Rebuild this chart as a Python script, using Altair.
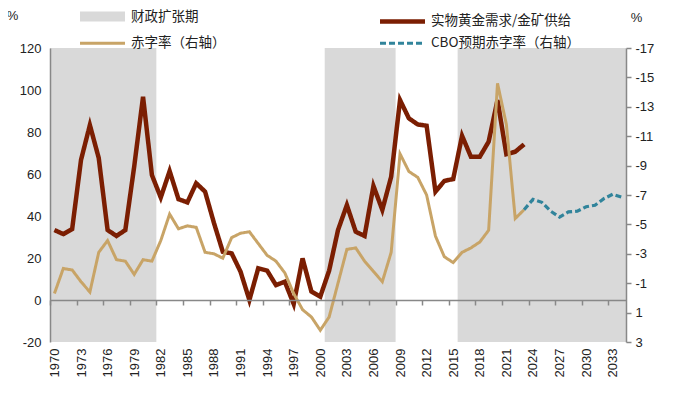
import altair as alt
import pandas as pd

# ---------------- data ----------------
years = list(range(1970, 2024))
gold_ratio = [33.3, 31.4, 33.8, 66.7, 83.3, 67.6, 33.3, 30.5, 33.3, 63.5,
              96.8, 59.5, 48.8, 61.4, 48.0, 46.5, 55.6, 51.6, 36.7, 23.0,
              22.2, 13.5, 0.0, 15.1, 14.0, 7.1, 8.7, -1.9, 19.8, 4.0,
              1.6, 14.0, 33.3, 45.2, 32.5, 30.5, 54.3, 42.9, 58.7, 95.2,
              86.5, 83.6, 83.0, 51.6, 56.7, 57.6, 78.2, 68.2, 68.2, 75.4,
              95.2, 69.4, 70.6, 74.1]
deficit = [-0.3, -2.0, -1.9, -1.1, -0.4, -3.1, -3.9, -2.6, -2.5, -1.6,
           -2.6, -2.5, -3.9, -5.7, -4.7, -4.9, -4.8, -3.1, -3.0, -2.7,
           -4.1, -4.4, -4.5, -3.7, -2.9, -2.5, -1.7, -0.3, 0.8, 1.3,
           2.2, 1.3, -1.0, -3.3, -3.4, -2.5, -1.8, -1.1, -3.1, -9.8,
           -8.6, -8.2, -7.0, -4.2, -2.8, -2.4, -3.1, -3.4, -3.8, -4.6,
           -14.6, -11.8, -5.4, -6.0]
cbo_years = list(range(2023, 2035))
cbo_deficit = [-6.0, -6.7, -6.5, -5.9, -5.5, -5.85, -5.9, -6.2, -6.3, -6.75, -7.05, -6.85]
shade_first = [1970, 2001, 2016]
shade_last = [1981, 2008, 2034]

x_label_years = list(range(1970, 2034, 3))
left_ticks = [-20, 0, 20, 40, 60, 80, 100, 120]
right_ticks = [-17, -15, -13, -11, -9, -7, -5, -3, -1, 1, 3]

L_SHADE = "财政扩张期"
L_GOLD = "实物黄金需求/金矿供给"
L_DEF = "赤字率（右轴）"
L_CBO = "CBO预期赤字率（右轴）"
LABELS = [L_SHADE, L_GOLD, L_DEF, L_CBO]

# ---------------- tables ----------------
shade_df = pd.DataFrame({"x0": [s - 0.5 for s in shade_first],
                         "x1": [e + 0.5 for e in shade_last],
                         "label": L_SHADE})
gold_df = pd.DataFrame({"year": years, "v": gold_ratio, "label": L_GOLD})
def_df = pd.DataFrame({"year": years, "v": deficit, "label": L_DEF})
cbo_df = pd.DataFrame({"year": cbo_years, "v": cbo_deficit, "label": L_CBO})

FONT = "Liberation Sans"
CJK = "Noto Sans CJK SC"
GREY = "#888888"
TXT = "#222222"

xs = alt.Scale(domain=[1969.5, 2034.5], nice=False, zero=False)
ls = alt.Scale(domain=[-20, 120], nice=False, zero=False)
rs = alt.Scale(domain=[-17, 3], reverse=True, nice=False, zero=False)
cs = alt.Scale(domain=LABELS, range=["#D9D9D9", "#7B1E02", "#C8A467", "#31849B"])
ds = alt.Scale(domain=LABELS, range=[[1, 0], [1, 0], [1, 0], [6, 3]])
ws = alt.Scale(type="ordinal", domain=LABELS, range=[10, 4.5, 3, 3.2])

legend = alt.Legend(
    orient="none", legendX=44.5, legendY=-39.5, columns=2, direction="horizontal",
    title=None, symbolType="M-7.5,0H7.5", symbolSize=36,
    columnPadding=145, rowPadding=-5, labelFont=CJK, labelFontSize=13.5,
    labelColor=TXT, labelOffset=20.5, labelLimit=300, symbolOpacity=1,
)


def style_enc():
    return dict(
        color=alt.Color("label:N", scale=cs, legend=legend),
        strokeDash=alt.StrokeDash("label:N", scale=ds, legend=legend),
        strokeWidth=alt.StrokeWidth("label:N", scale=ws, legend=legend),
    )


label_axis = alt.Axis(orient="bottom", values=x_label_years, labelExpr="'' + datum.value",
                      labelAngle=-90, domain=False, ticks=False, grid=False,
                      labelFont=FONT, labelFontSize=13, labelColor=TXT, labelPadding=6,
                      title=None, labelOverlap=False, zindex=1)
tick_axis = alt.Axis(orient="bottom", values=[y - 0.5 for y in x_label_years], labels=False,
                     ticks=True, tickSize=5, tickColor=GREY, tickWidth=1.5,
                     domain=True, domainColor=GREY, domainWidth=1.5, offset=-42,
                     grid=False, title=None, zindex=1)
left_axis = alt.Axis(orient="left", values=left_ticks, labelExpr="'' + datum.value",
                     domain=True, domainColor=GREY, domainWidth=1.5, ticks=False, grid=False,
                     labelFont=FONT, labelFontSize=13, labelColor=TXT, labelPadding=9,
                     title="%", titleAngle=0, titleX=-38, titleY=-33, titleAlign="center",
                     titleBaseline="middle", titleFont=FONT, titleFontSize=13,
                     titleFontWeight="normal", titleColor=TXT, zindex=1)
right_axis = alt.Axis(orient="right", values=right_ticks, labelExpr="'' + datum.value",
                      domain=True, domainColor=GREY, domainWidth=1.5, ticks=True, tickSize=5,
                      tickColor=GREY, tickWidth=1.5, grid=False,
                      labelFont=FONT, labelFontSize=13, labelColor=TXT, labelPadding=4,
                      title="%", titleAngle=0, titleX=10, titleY=-31, titleAlign="center",
                      titleBaseline="middle", titleFont=FONT, titleFontSize=13,
                      titleFontWeight="normal", titleColor=TXT, zindex=1)

shade = alt.Chart(shade_df).mark_rect().encode(
    x=alt.X("x0:Q", scale=xs, axis=label_axis),
    x2="x1:Q",
    y=alt.Y(datum=120, scale=ls, axis=None),
    y2=alt.Y2(datum=-20),
    **style_enc(),
)
gold = alt.Chart(gold_df).mark_line().encode(
    x=alt.X("year:Q", scale=xs, axis=tick_axis),
    y=alt.Y("v:Q", scale=ls, axis=left_axis),
    **style_enc(),
)
defl = alt.Chart(def_df).mark_line().encode(
    x=alt.X("year:Q", scale=xs, axis=None),
    y=alt.Y("v:Q", scale=rs, axis=right_axis),
    **style_enc(),
)
cbo = alt.Chart(cbo_df).mark_line().encode(
    x=alt.X("year:Q", scale=xs, axis=None),
    y=alt.Y("v:Q", scale=rs, axis=None),
    **style_enc(),
)

chart = alt.layer(shade, gold, defl, cbo).resolve_scale(y="independent").resolve_axis(
    x="independent"
).properties(
    width=576, height=294,
    autosize=alt.AutoSizeParams(type="none"),
    padding={"left": 42, "top": 40, "right": 43, "bottom": 47},
    background="white",
).configure_view(stroke=None)

chart.save("out.html", embed_options={"renderer": "svg", "actions": False})
